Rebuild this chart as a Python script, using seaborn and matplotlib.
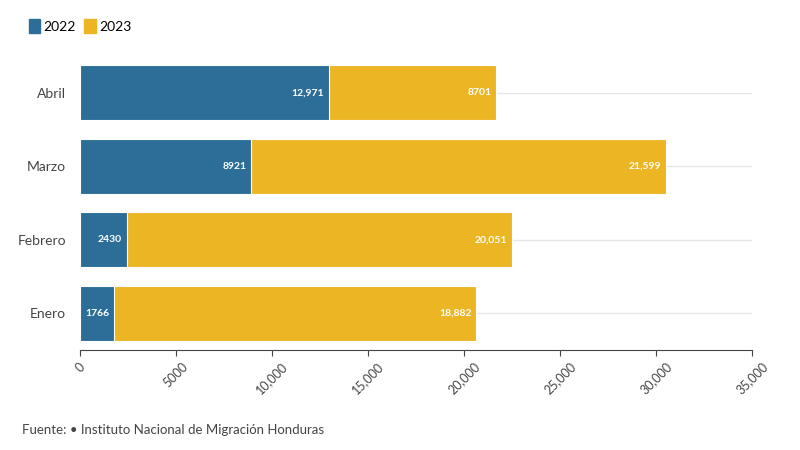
import matplotlib
matplotlib.use("Agg")
import matplotlib.pyplot as plt
import seaborn as sns
import pandas as pd
from matplotlib.patches import Patch

months = ["Abril", "Marzo", "Febrero", "Enero"]
v2022 = [12971, 8921, 2430, 1766]
v2023 = [8701, 21599, 20051, 18882]
lab2022 = ["12,971", "8921", "2430", "1766"]
lab2023 = ["8701", "21,599", "20,051", "18,882"]
xticks = [0, 5000, 10000, 15000, 20000, 25000, 30000, 35000]
xticklabels = ["0", "5000", "10,000", "15,000", "20,000", "25,000", "30,000", "35,000"]

blue = "#2d6e98"
yellow = "#ebb524"
df = pd.DataFrame({"mes": months, "a": v2022, "b": v2023})
df["total"] = df["a"] + df["b"]

plt.rcParams["font.family"] = "Lato"
fig = plt.figure(figsize=(8, 4.5), dpi=100)
ax = fig.add_axes([0.1, 0.222, 0.84, 0.662])
for i in range(len(months)):
    ax.axhline(i, color="#e6e6e6", lw=1, zorder=0)
sns.barplot(data=df, y="mes", x="total", color=yellow, saturation=1, orient="h", width=0.75, ax=ax, zorder=2)
sns.barplot(data=df, y="mes", x="a", color=blue, saturation=1, orient="h", width=0.75, ax=ax, zorder=3)
for p in ax.patches:
    p.set_edgecolor("white"); p.set_linewidth(0.8)
for i in range(len(months)):
    ax.text(v2022[i] - 250, i, lab2022[i], color="white", fontsize=7.5, fontweight="bold",
            ha="right", va="center", zorder=5)
    ax.text(v2022[i] + v2023[i] - 250, i, lab2023[i], color="white", fontsize=7.5, fontweight="bold",
            ha="right", va="center", zorder=5)
ax.set_xlim(0, 35000)
ax.set_ylim(3.5, -0.55)
ax.set_xticks(xticks)
ax.set_xticklabels(xticklabels, rotation=45, fontsize=9, color="#444")
ax.tick_params(axis="y", length=0, labelsize=10, labelcolor="#444", pad=10)
ax.tick_params(axis="x", length=4, color="#444")
ax.set_xlabel(""); ax.set_ylabel("")
for s in ["top", "right", "left"]:
    ax.spines[s].set_visible(False)
ax.spines["bottom"].set_color("#444")
fig.legend(handles=[Patch(color=blue, label="2022"), Patch(color=yellow, label="2023")],
           loc="upper left", bbox_to_anchor=(0.02, 0.985), ncol=2, frameon=False,
           handlelength=0.8, handleheight=1.2, handletextpad=0.3, columnspacing=0.6, fontsize=10)
fig.text(0.027, 0.035, "Fuente: • Instituto Nacional de Migración Honduras", fontsize=9.5, color="#444")
fig.savefig("out.png", dpi=100)
